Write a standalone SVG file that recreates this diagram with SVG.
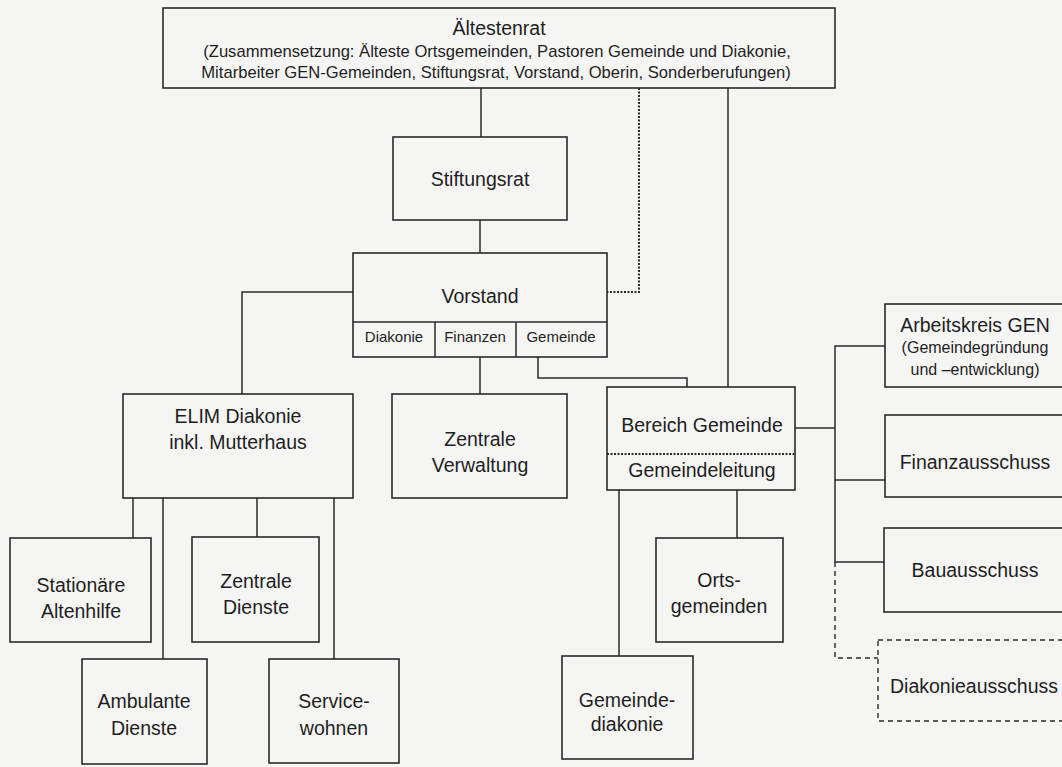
<svg xmlns="http://www.w3.org/2000/svg" width="1062" height="767" viewBox="0 0 1062 767">
<style>
.bg{fill:#f5f5f4}
.box{fill:none;stroke:#2a2a2a;stroke-width:1.6}
.dash{fill:none;stroke:#2a2a2a;stroke-width:1.4;stroke-dasharray:5 4}
.dot{fill:none;stroke:#2a2a2a;stroke-width:2;stroke-dasharray:2 1.5}
.ln{fill:none;stroke:#2a2a2a;stroke-width:1.5}
text{font-family:"Liberation Sans",Arial,sans-serif;fill:#1e1e1e;text-anchor:middle}
.t{font-size:19.5px}
.s{font-size:16.6px}
.a{font-size:16px}
.x{font-size:15px}
</style>
<rect class="bg" x="0" y="0" width="1062" height="767"/>
<g id="connectors">
<path class="ln" d="M481 88V137"/>
<path class="dot" d="M639 88V292H607"/>
<path class="ln" d="M728 88V387"/>
<path class="ln" d="M480 220V253"/>
<path class="ln" d="M353 292H242V394"/>
<path class="ln" d="M480 357V394"/>
<path class="ln" d="M538 357V378H687V387"/>
<path class="ln" d="M133 498V538"/>
<path class="ln" d="M163 498V659"/>
<path class="ln" d="M257 498V537"/>
<path class="ln" d="M334 498V659"/>
<path class="ln" d="M619 490V656"/>
<path class="ln" d="M737 490V538"/>
<path class="ln" d="M795 428H835"/>
<path class="ln" d="M885 346H835V562H884"/>
<path class="ln" d="M835 480H885"/>
<path class="dash" d="M835 562V658H878"/>
</g>
<g id="aeltestenrat">
<rect class="box" x="163" y="8" width="672" height="80"/>
<text class="t" x="499" y="35">Ältestenrat</text>
<text class="s" x="497" y="57">(Zusammensetzung: Älteste Ortsgemeinden, Pastoren Gemeinde und Diakonie,</text>
<text class="s" x="496" y="78">Mitarbeiter GEN-Gemeinden, Stiftungsrat, Vorstand, Oberin, Sonderberufungen)</text>
</g>
<g id="stiftungsrat">
<rect class="box" x="393" y="137" width="174" height="83"/>
<text class="t" x="480" y="186">Stiftungsrat</text>
</g>
<g id="vorstand">
<rect class="box" x="353" y="253" width="254" height="104"/>
<path class="ln" d="M353 322H607M435 322V357M516 322V357"/>
<text class="t" x="480" y="303">Vorstand</text>
<text class="x" x="394" y="342">Diakonie</text>
<text class="x" x="475" y="342">Finanzen</text>
<text class="x" x="561" y="342">Gemeinde</text>
</g>
<g id="elim">
<rect class="box" x="123" y="394" width="230" height="104"/>
<text class="t" x="238" y="423">ELIM Diakonie</text>
<text class="t" x="238" y="449">inkl. Mutterhaus</text>
</g>
<g id="zentrale-verwaltung">
<rect class="box" x="392" y="394" width="175" height="104"/>
<text class="t" x="480" y="446">Zentrale</text>
<text class="t" x="480" y="472">Verwaltung</text>
</g>
<g id="bereich-gemeinde">
<rect class="box" x="607" y="387" width="188" height="103"/>
<path class="dot" d="M607 454H795"/>
<text class="t" x="702" y="432">Bereich Gemeinde</text>
<text class="t" x="702" y="477">Gemeindeleitung</text>
</g>
<g id="arbeitskreis-gen">
<rect class="box" x="885" y="304" width="185" height="83"/>
<text class="t" x="975" y="332">Arbeitskreis GEN</text>
<text class="a" x="975" y="353">(Gemeindegründung</text>
<text class="a" x="975" y="375">und –entwicklung)</text>
</g>
<g id="finanzausschuss">
<rect class="box" x="885" y="415" width="185" height="82"/>
<text class="t" x="975" y="469">Finanzausschuss</text>
</g>
<g id="bauausschuss">
<rect class="box" x="884" y="528" width="186" height="84"/>
<text class="t" x="975" y="577">Bauausschuss</text>
</g>
<g id="diakonieausschuss">
<rect class="dash" x="878" y="640" width="192" height="81"/>
<text class="t" x="974" y="693">Diakonieausschuss</text>
</g>
<g id="stationaere-altenhilfe">
<rect class="box" x="10" y="538" width="141" height="104"/>
<text class="t" x="81" y="592">Stationäre</text>
<text class="t" x="81" y="618">Altenhilfe</text>
</g>
<g id="zentrale-dienste">
<rect class="box" x="192" y="537" width="127" height="105"/>
<text class="t" x="256" y="588">Zentrale</text>
<text class="t" x="256" y="614">Dienste</text>
</g>
<g id="ambulante-dienste">
<rect class="box" x="82" y="659" width="125" height="105"/>
<text class="t" x="144" y="708">Ambulante</text>
<text class="t" x="144" y="735">Dienste</text>
</g>
<g id="servicewohnen">
<rect class="box" x="269" y="659" width="130" height="104"/>
<text class="t" x="334" y="708">Service-</text>
<text class="t" x="334" y="735">wohnen</text>
</g>
<g id="ortsgemeinden">
<rect class="box" x="656" y="538" width="127" height="104"/>
<text class="t" x="719" y="587">Orts-</text>
<text class="t" x="719" y="613">gemeinden</text>
</g>
<g id="gemeindediakonie">
<rect class="box" x="562" y="656" width="131" height="103"/>
<text class="t" x="627" y="707">Gemeinde-</text>
<text class="t" x="627" y="731">diakonie</text>
</g>
</svg>
